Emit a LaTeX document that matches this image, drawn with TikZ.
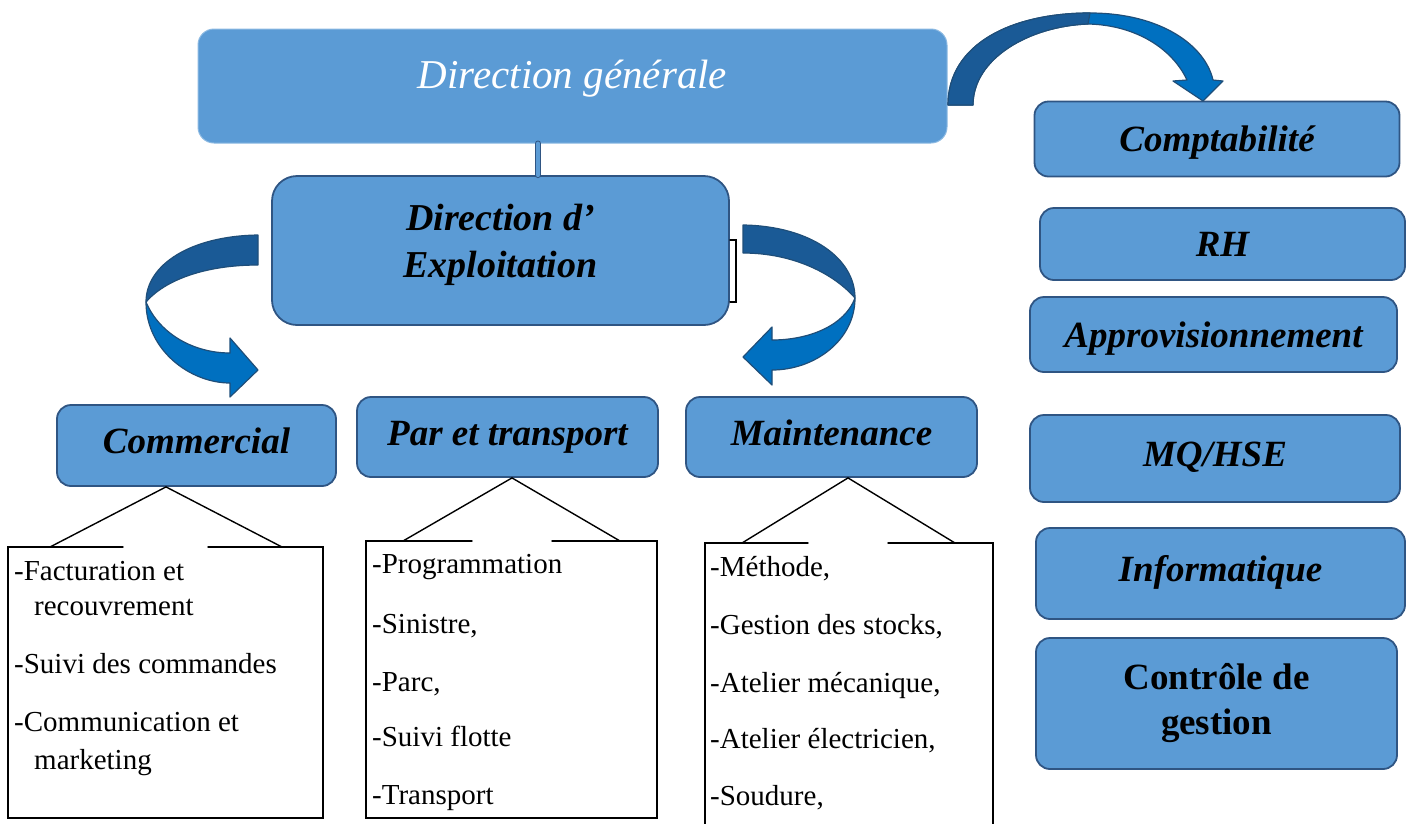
\documentclass[tikz,border=0pt]{standalone}
\usepackage{fontspec}
\setmainfont{Liberation Serif}
\usetikzlibrary{calc}
\definecolor{boxblue}{RGB}{91,155,213}
\definecolor{boxedge}{RGB}{47,85,131}
\definecolor{arrowdark}{RGB}{26,90,150}
\definecolor{arrowlight}{RGB}{0,112,192}
\definecolor{arrowedge}{RGB}{31,78,121}

\tikzset{
  unit/.style={rounded corners=14pt, fill=boxblue, draw=boxedge, line width=1.8pt, inner sep=0pt,
    font=\fontsize{37}{46}\selectfont\bfseries\itshape, align=center},
  lbl/.style={text height=31pt, text depth=6pt},
  lblup/.style={text height=31pt, text depth=15pt},
  listbox/.style={line width=1.4pt, black},
  item/.style={anchor=base west, inner sep=0pt, font=\fontsize{29}{35}\selectfont},
  curvearrow/.style={draw=arrowedge, line width=1.2pt, line join=round},
  link/.style={draw=boxedge, line width=1pt, double=boxblue, double distance=4pt},
}

\begin{document}
\begin{tikzpicture}[x=1pt, y=-1pt, line cap=round]
  \useasboundingbox (0,0) rectangle (1408,823);

  % top of the chart
  \node[unit, rounded corners=16pt, draw=boxblue!70!white, line width=1pt, minimum width=749, minimum height=114,
        font=\fontsize{41}{48}\selectfont\itshape, text=white, text height=30pt, text depth=25pt] (dg) at (572.5,86) {Direction générale};
  \node[unit, rounded corners=25pt, minimum width=457, minimum height=149] (de) at (500.5,250.5) {};
  \node[align=center, font=\fontsize{38}{47}\selectfont\bfseries\itshape] at ([yshift=6pt]de.center) {Direction d’\\Exploitation};
  \coordinate (dglink) at (538,0);
  \draw[link] (dg.south -| dglink) -- (de.north -| dglink);
  \draw[line width=1.2pt] (de.east |- 0,240) -- (736,240) -- (736,302) -- (de.east |- 0,302);

  % services on the right
  \node[unit,lbl,minimum width=365,minimum height=75] (compta) at (1217,139) {Comptabilité};
  \node[unit,lbl,minimum width=365,minimum height=72] (rh) at (1222.5,244) {RH};
  \node[unit,lbl,minimum width=367,minimum height=75] (appro) at (1213.5,334.5) {Approvisionnement};
  \node[unit,lblup,minimum width=370,minimum height=87] (mq) at (1215,458.5) {MQ/HSE};
  \node[unit,lblup,minimum width=369,minimum height=91] (info) at (1220.5,573.5) {Informatique};
  \node[unit,minimum width=361,minimum height=131,font=\fontsize{37}{45}\selectfont\bfseries] (cdg) at (1216.5,703.5) {Contrôle de\\gestion};

  % departments
  \node[unit,lblup,minimum width=279,minimum height=81] (com) at (196.5,445.5) {Commercial};
  \node[unit,lblup,minimum width=301,minimum height=80] (par) at (507.5,437) {Par et transport};
  \node[unit,lblup,minimum width=291,minimum height=80] (mnt) at (831.5,437) {Maintenance};

  % curved arrows
  \filldraw[curvearrow, fill=arrowlight] (948,105) .. controls (948,45) and (1010,13) .. (1090,13)
    .. controls (1160,13) and (1205,45) .. (1213,80) -- (1223,81) -- (1203,101) -- (1173,81) -- (1187,80)
    .. controls (1172,48) and (1135,25) .. (1088,24) .. controls (1030,26) and (973,58) .. (973,105) -- cycle;
  \filldraw[curvearrow, fill=arrowdark] (948,105) .. controls (948,45) and (1010,13) .. (1090,13)
    -- (1088,24) .. controls (1030,26) and (973,58) .. (973,105) -- cycle;

  \filldraw[curvearrow, fill=arrowlight] (146,302) .. controls (146,350) and (190,383) .. (230,383) -- (230,397) -- (258,370)
    -- (230,338) -- (230,353) .. controls (195,353) and (160,335) .. (146,302) -- cycle;
  \filldraw[curvearrow, fill=arrowdark] (258,235) .. controls (190,236) and (146,265) .. (146,302)
    .. controls (165,280) and (205,265) .. (258,265) -- cycle;

  \filldraw[curvearrow, fill=arrowlight] (855,298) .. controls (855,340) and (815,370) .. (772,370) -- (772,385) -- (743,357)
    -- (772,327) -- (772,340) .. controls (810,340) and (845,325) .. (855,298) -- cycle;
  \filldraw[curvearrow, fill=arrowdark] (743,225) .. controls (810,226) and (855,258) .. (855,298)
    .. controls (835,275) and (795,253) .. (743,253) -- cycle;

  % task boxes below the departments
  \foreach \n/\l/\r/\t/\b/\gl/\gr/\a/\el/\er in {com/8/323/547/818/123/208/166/50/282,
      par/366/657/541/818/472/552/512/403/620, mnt/705/993/543/830/808/888/848/742/955}{
    \draw[listbox] (\gl,\t) -- (\l,\t) -- (\l,\b) -- (\r,\b) -- (\r,\t) -- (\gr,\t);
    \draw[listbox] (\n.south -| \a,0) -- (\el,\t);
    \draw[listbox] (\n.south -| \a,0) -- (\er,\t);
  }
  \foreach \txt/\x/\y in {{-Facturation et}/14/580, recouvrement/34/615, {-Suivi des commandes}/14/673,
      {-Communication et}/14/731, marketing/34/769,
      -Programmation/372/573, {-Sinistre,}/372/633, {-Parc,}/372/691, {-Suivi flotte}/372/746, -Transport/372/804,
      {-Méthode,}/710/576, {-Gestion des stocks,}/710/634, {-Atelier mécanique,}/710/692,
      {-Atelier électricien,}/710/748, {-Soudure,}/710/805}
    \node[item] at (\x,\y) {\txt};
\end{tikzpicture}
\end{document}
